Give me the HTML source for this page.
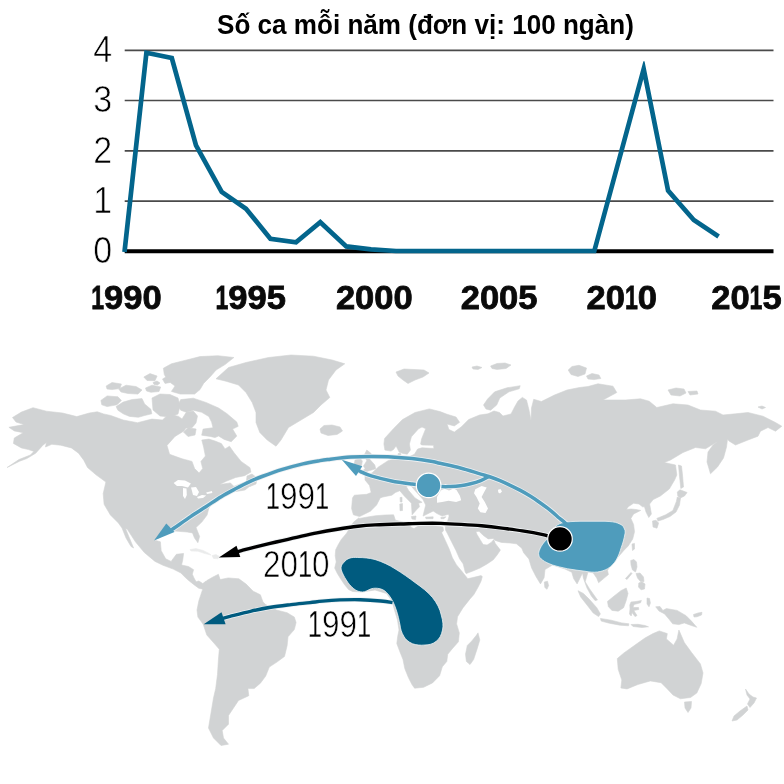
<!DOCTYPE html>
<html><head><meta charset="utf-8">
<style>
html,body{margin:0;padding:0;background:#fff;}
body{width:784px;height:784px;overflow:hidden;font-family:"Liberation Sans",sans-serif;}
svg{display:block;will-change:transform;}
text{font-family:"Liberation Sans",sans-serif;}
.thin{font-weight:400;fill:#000;stroke:#fff;stroke-width:0.7px;paint-order:fill stroke;}
.thin .one{stroke-width:0.3px;}
.yl{font-size:37px;}
.ml{font-size:37px;}
.xl{font-weight:700;font-size:34px;fill:#0a0a0a;stroke:#0a0a0a;stroke-width:0.8px;}
</style></head><body>
<svg width="784" height="784" viewBox="0 0 784 784">
<rect width="784" height="784" fill="#fff"/>
<!-- title -->
<text transform="translate(217.0,33.5) scale(0.966,1)" font-weight="700" font-size="27" fill="#000">Số ca mỗi năm (đơn vị: 100 ngàn)</text>
<!-- grid -->
<g stroke="#4a4a4a" stroke-width="1.7">
<line x1="124.7" y1="50.3" x2="773.5" y2="50.3"/>
<line x1="124.7" y1="100.5" x2="773.5" y2="100.5"/>
<line x1="124.7" y1="150.8" x2="773.5" y2="150.8"/>
<line x1="124.7" y1="201.1" x2="773.5" y2="201.1"/>
</g>
<line x1="124.7" y1="251.2" x2="773.5" y2="251.2" stroke="#000" stroke-width="4"/>
<clipPath id="cc"><rect x="0" y="0" width="400" height="330"/><rect x="400" y="61.2" width="384" height="270"/></clipPath>
<path clip-path="url(#cc)" d="M124.5 252.0 L146.4 52.8 L171.8 58.0 L196.0 145.4 L221.7 192.0 L246.0 208.7 L270.4 238.8 L296.0 242.3 L320.3 222.2 L346.3 246.4 L371.0 249.3 L396.0 251.0 L594.3 251.0 L643.7 69.0 L668.1 190.6 L693.8 220.0 L718.6 236.5" fill="none" stroke="#03658c" stroke-width="4.7" stroke-linejoin="miter" stroke-miterlimit="10" stroke-linecap="butt"/>
<g class="thin yl" text-anchor="middle">
<text transform="translate(102.6,62.2) scale(0.92,1)">4</text>
<text transform="translate(102.6,112.4) scale(0.92,1)">3</text>
<text transform="translate(102.6,162.7) scale(0.92,1)">2</text>
<text transform="translate(102.6,213.0) scale(0.92,1)">1</text>
<text transform="translate(102.6,263.1) scale(0.92,1)">0</text>
</g>
<g class="xl">
<text x="91.24" y="309.0"><tspan class="one" textLength="12.86" lengthAdjust="spacingAndGlyphs">1</tspan><tspan textLength="19.21" lengthAdjust="spacingAndGlyphs">9</tspan><tspan textLength="19.21" lengthAdjust="spacingAndGlyphs">9</tspan><tspan textLength="19.21" lengthAdjust="spacingAndGlyphs">0</tspan></text>
<text x="215.44" y="309.0"><tspan class="one" textLength="12.86" lengthAdjust="spacingAndGlyphs">1</tspan><tspan textLength="19.21" lengthAdjust="spacingAndGlyphs">9</tspan><tspan textLength="19.21" lengthAdjust="spacingAndGlyphs">9</tspan><tspan textLength="19.21" lengthAdjust="spacingAndGlyphs">5</tspan></text>
<text x="335.90" y="309.0"><tspan textLength="19.21" lengthAdjust="spacingAndGlyphs">2</tspan><tspan textLength="19.21" lengthAdjust="spacingAndGlyphs">0</tspan><tspan textLength="19.21" lengthAdjust="spacingAndGlyphs">0</tspan><tspan textLength="19.21" lengthAdjust="spacingAndGlyphs">0</tspan></text>
<text x="460.70" y="309.0"><tspan textLength="19.21" lengthAdjust="spacingAndGlyphs">2</tspan><tspan textLength="19.21" lengthAdjust="spacingAndGlyphs">0</tspan><tspan textLength="19.21" lengthAdjust="spacingAndGlyphs">0</tspan><tspan textLength="19.21" lengthAdjust="spacingAndGlyphs">5</tspan></text>
<text x="586.60" y="309.0"><tspan textLength="19.21" lengthAdjust="spacingAndGlyphs">2</tspan><tspan textLength="19.21" lengthAdjust="spacingAndGlyphs">0</tspan><tspan class="one" textLength="12.86" lengthAdjust="spacingAndGlyphs">1</tspan><tspan textLength="19.21" lengthAdjust="spacingAndGlyphs">0</tspan></text>
<text x="711.20" y="309.0"><tspan textLength="19.21" lengthAdjust="spacingAndGlyphs">2</tspan><tspan textLength="19.21" lengthAdjust="spacingAndGlyphs">0</tspan><tspan class="one" textLength="12.86" lengthAdjust="spacingAndGlyphs">1</tspan><tspan textLength="19.21" lengthAdjust="spacingAndGlyphs">5</tspan></text>
</g>
<!-- map -->
<g id="land" stroke="#d1d3d4" stroke-width="0.6" stroke-linejoin="round">
<path d="M12.5 417.5 L21.4 412.1 L33.0 407.7 L46.4 411.2 L62.5 413.0 L76.8 416.6 L89.3 413.0 L97.3 411.8 L103.6 413.9 L110.7 415.5 L123.2 420.0 L137.5 422.7 L151.8 419.1 L162.5 420.0 L166.1 416.4 L171.4 414.6 L178.6 416.4 L182.0 419.0 L186.3 412.3 L193.3 411.0 L197.5 416.0 L196.0 423.0 L192.0 427.7 L186.0 428.0 L183.9 431.0 L175.0 436.4 L167.0 445.4 L169.6 454.3 L182.1 458.8 L192.0 461.4 L194.6 468.6 L199.1 473.0 L202.7 468.6 L200.9 461.4 L205.4 456.1 L203.6 447.1 L201.8 440.0 L208.9 439.1 L215.0 441.0 L221.4 443.6 L225.0 448.9 L229.5 446.2 L233.9 452.5 L241.1 461.4 L250.0 467.7 L250.9 472.1 L244.6 475.7 L235.7 477.5 L226.8 481.0 L219.6 484.6 L230.4 482.9 L233.9 486.4 L242.9 482.9 L250.0 486.0 L245.0 490.0 L236.0 491.5 L228.6 491.8 L221.4 497.1 L216.1 500.7 L208.9 507.9 L207.1 515.0 L201.8 522.1 L196.0 527.5 L199.6 536.4 L197.9 542.7 L194.5 538.0 L192.5 532.9 L187.1 532.0 L174.6 531.0 L166.0 534.0 L160.0 537.5 L154.1 540.0 L160.4 541.8 L161.2 550.7 L165.7 558.8 L171.1 561.4 L176.4 554.3 L183.6 553.4 L182.7 560.2 L181.5 565.0 L188.5 566.5 L193.6 569.7 L192.3 574.2 L194.0 578.0 L196.1 581.8 L198.9 581.0 L202.8 583.6 L206.0 581.0 L209.0 584.0 L206.3 590.0 L198.7 588.2 L193.6 584.4 L187.2 579.3 L180.8 572.9 L173.2 569.1 L163.0 565.3 L155.0 561.4 L144.3 552.5 L135.4 541.8 L127.3 529.3 L125.5 528.5 L129.0 537.0 L133.6 548.0 L131.0 546.5 L126.0 538.0 L122.0 528.0 L118.4 523.0 L110.4 515.0 L104.1 504.3 L103.2 493.6 L105.9 482.0 L96.0 474.8 L87.5 467.5 L83.9 460.4 L78.6 453.2 L71.4 447.9 L60.7 445.2 L51.8 444.3 L45.5 447.0 L46.4 442.5 L42.9 445.2 L35.7 453.2 L26.8 458.6 L19.6 461.2 L7.1 467.5 L19.0 459.5 L30.4 455.0 L33.9 451.4 L28.6 449.6 L21.4 447.9 L13.4 443.4 L14.3 438.0 L23.2 432.7 L14.3 430.9 L8.9 427.3 L24.1 424.6 L16.0 422.0Z" fill="#d1d3d4" />
<path d="M247.0 476.0 L252.0 474.0 L257.1 478.0 L256.0 484.0 L250.0 486.4 L246.4 482.0Z" fill="#d1d3d4" />
<path d="M100.9 400.4 L107.1 395.9 L117.9 396.8 L121.4 400.4 L117.0 404.8 L107.1 406.6 L101.8 404.8Z" fill="#d1d3d4" />
<path d="M116.1 406.6 L123.2 402.1 L132.1 399.5 L142.0 398.6 L144.6 403.9 L150.9 409.3 L151.8 413.8 L144.6 415.5 L138.4 417.3 L129.5 416.4 L123.2 413.8 L117.9 410.2Z" fill="#d1d3d4" />
<path d="M106.2 386.0 L112.0 382.5 L121.4 384.0 L120.0 388.5 L112.0 389.6 L107.0 389.0Z" fill="#d1d3d4" />
<path d="M118.8 389.0 L126.0 385.2 L136.0 386.5 L142.0 390.0 L138.0 394.1 L128.0 393.5 L121.0 392.0Z" fill="#d1d3d4" />
<path d="M152.0 398.0 L160.0 394.0 L170.0 394.5 L178.0 398.0 L180.0 406.0 L178.0 414.0 L170.0 417.0 L160.0 416.0 L153.0 410.0Z" fill="#d1d3d4" />
<path d="M143.8 377.0 L150.0 373.6 L157.1 376.0 L155.0 380.7 L147.0 380.5Z" fill="#d1d3d4" />
<path d="M163.4 368.2 L171.4 363.8 L185.7 360.2 L200.0 356.6 L217.9 355.7 L233.9 357.5 L225.0 364.6 L216.1 370.0 L210.7 376.2 L203.6 383.4 L200.0 389.6 L194.6 394.1 L180.4 394.1 L171.4 391.4 L175.0 386.0 L167.9 380.7 L164.3 374.5Z" fill="#d1d3d4" />
<path d="M177.9 405.3 L180.7 399.6 L193.3 398.2 L205.9 402.4 L218.6 408.0 L227.0 413.7 L236.8 422.1 L238.2 426.3 L232.6 429.1 L236.8 436.1 L231.2 441.7 L224.2 439.4 L218.6 436.0 L215.0 437.6 L210.2 436.4 L201.7 435.2 L203.1 429.1 L213.0 427.7 L211.6 422.1 L208.8 416.5 L201.7 412.3 L193.3 410.2 L186.3 412.3 L180.7 410.2Z" fill="#d1d3d4" />
<path d="M183.5 432.0 L188.0 427.7 L196.1 429.0 L195.0 435.0 L188.0 436.5Z" fill="#d1d3d4" />
<path d="M216.0 378.8 L228.5 367.5 L246.0 362.5 L268.5 357.5 L291.0 355.0 L313.5 356.2 L332.2 360.0 L344.8 363.8 L336.0 370.0 L328.5 380.0 L326.0 390.0 L329.8 397.5 L321.0 405.0 L313.5 412.5 L301.0 420.0 L288.5 427.5 L281.0 440.0 L276.0 446.2 L267.2 440.0 L259.8 432.5 L256.0 422.5 L256.0 412.5 L252.2 402.5 L246.0 392.5 L238.5 385.0 L226.0 381.2Z" fill="#d1d3d4" />
<path d="M320.0 429.0 L324.0 425.5 L332.0 425.0 L340.0 427.0 L342.5 431.0 L337.0 434.5 L328.0 435.5 L321.0 433.0Z" fill="#d1d3d4" />
<path d="M206.8 580.5 L213.0 577.0 L218.4 574.3 L220.2 579.6 L228.2 577.9 L238.9 578.8 L246.1 584.1 L253.2 591.2 L260.4 594.8 L263.0 602.0 L265.7 604.6 L276.4 610.0 L287.1 612.7 L294.3 617.1 L296.1 622.5 L294.3 629.6 L288.0 636.8 L287.1 645.7 L284.5 656.4 L277.3 661.8 L269.3 667.1 L265.7 676.1 L260.4 683.2 L254.1 688.6 L247.9 688.6 L248.8 695.7 L238.5 700.5 L233.5 708.0 L228.5 715.5 L228.5 724.2 L222.2 730.5 L223.5 738.0 L228.5 744.2 L221.0 745.5 L213.5 738.0 L208.5 728.0 L211.0 713.0 L213.5 698.0 L215.7 688.6 L217.5 674.3 L218.4 660.0 L219.3 649.3 L213.9 643.0 L206.8 635.0 L203.2 624.3 L197.9 617.1 L197.0 610.0 L198.8 601.0 L202.3 590.4Z" fill="#d1d3d4" />
<path d="M359.6 518.4 L367.5 517.0 L375.7 515.7 L385.0 515.0 L393.6 514.8 L395.4 520.2 L401.0 521.5 L407.9 522.9 L411.5 527.5 L414.0 528.5 L420.0 525.0 L428.0 523.0 L436.0 526.0 L443.0 527.0 L443.5 530.5 L441.7 532.8 L445.3 540.4 L449.4 549.6 L452.4 557.8 L456.5 564.9 L461.6 571.0 L465.2 575.6 L467.8 578.7 L474.9 577.1 L481.0 575.6 L482.3 576.6 L481.0 581.2 L478.0 587.3 L473.9 594.5 L470.0 598.9 L462.9 607.9 L457.5 616.8 L456.6 623.9 L459.3 632.9 L458.4 641.8 L452.1 648.9 L447.7 654.3 L446.8 661.4 L442.3 666.8 L439.6 675.7 L432.5 682.9 L423.6 687.3 L414.6 688.2 L412.0 684.6 L408.4 677.5 L404.8 668.6 L403.0 659.6 L399.5 650.7 L396.8 643.6 L397.7 636.4 L399.0 630.0 L397.5 620.0 L394.5 610.0 L392.0 601.0 L386.5 593.5 L375.0 590.0 L362.0 592.0 L352.6 591.5 L348.5 589.5 L344.4 584.4 L340.3 578.3 L337.2 573.2 L334.7 568.1 L336.2 561.9 L335.2 555.8 L335.7 549.7 L338.3 544.6 L341.3 539.5 L346.4 533.4 L351.0 526.2 L353.6 522.1 L358.7 518.0Z" fill="#d1d3d4" />
<path d="M478.0 632.9 L479.8 640.0 L477.1 648.9 L473.6 659.6 L470.0 664.6 L466.4 661.4 L465.5 654.3 L467.3 645.4 L471.8 640.9 L476.2 635.5Z" fill="#d1d3d4" />
<path d="M617.3 658.6 L623.6 653.2 L636.1 644.3 L645.0 638.0 L653.0 633.6 L659.3 630.9 L667.3 633.6 L666.4 638.9 L673.6 645.2 L677.1 638.9 L678.9 630.0 L684.3 642.5 L691.4 652.3 L700.4 663.9 L703.0 672.9 L701.2 683.6 L696.8 693.0 L690.5 697.5 L680.5 698.8 L673.0 695.0 L667.3 688.9 L661.1 682.7 L650.4 680.9 L637.9 684.5 L627.1 688.9 L620.9 688.0 L621.8 680.0 L618.2 669.3Z" fill="#d1d3d4" />
<path d="M684.5 702.0 L691.5 701.5 L691.0 708.0 L688.0 712.5 L685.0 708.0Z" fill="#d1d3d4" />
<path d="M745.5 689.0 L749.0 694.0 L753.0 697.0 L756.5 698.0 L754.0 703.0 L750.0 707.5 L747.5 704.0 L750.0 699.0 L747.0 695.0Z" fill="#d1d3d4" />
<path d="M747.0 706.0 L748.0 710.0 L743.0 715.0 L737.0 720.0 L732.0 721.0 L734.0 716.0 L740.0 711.0Z" fill="#d1d3d4" />
<path d="M655.7 606.8 L660.0 606.5 L662.9 610.4 L666.4 608.6 L677.1 610.4 L686.1 615.7 L691.4 621.1 L696.8 627.3 L691.4 625.5 L684.3 622.9 L678.9 624.6 L672.7 623.8 L669.1 619.3 L664.6 613.9 L659.0 611.0Z" fill="#d1d3d4" />
<path d="M607.5 601.4 L612.9 597.0 L620.9 590.7 L626.2 588.0 L628.0 593.4 L626.2 600.5 L623.6 607.7 L618.2 611.2 L612.0 610.4 L608.4 606.8Z" fill="#d1d3d4" />
<path d="M629.8 605.0 L631.0 602.0 L636.0 601.5 L641.4 600.5 L640.5 602.8 L634.0 604.5 L633.0 607.5 L638.5 607.5 L638.8 609.5 L633.8 610.5 L637.0 615.5 L635.0 616.6 L632.0 612.5 L631.2 616.0 L629.5 614.0 L630.0 609.0Z" fill="#d1d3d4" />
<path d="M578.0 590.7 L583.4 593.4 L589.6 599.6 L596.8 607.7 L600.4 613.9 L598.6 616.6 L593.2 613.0 L587.0 605.0 L580.7 597.0Z" fill="#d1d3d4" />
<path d="M600.4 618.4 L611.1 620.2 L621.8 622.9 L628.9 623.8 L628.5 625.8 L620.0 625.2 L609.3 623.2 L601.2 621.1Z" fill="#d1d3d4" />
<path d="M631.0 624.5 L638.0 624.3 L645.0 625.5 L648.5 626.8 L642.0 627.5 L633.0 626.5Z" fill="#d1d3d4" />
<path d="M630.7 560.5 L634.0 559.5 L636.5 562.0 L637.0 567.0 L635.5 572.0 L632.5 570.0 L631.0 565.0Z" fill="#d1d3d4" />
<path d="M632.0 544.0 L634.5 543.4 L634.5 549.0 L632.5 550.5Z" fill="#d1d3d4" />
<path d="M544.3 582.0 L547.5 581.2 L548.6 585.5 L547.0 589.3 L544.8 587.5Z" fill="#d1d3d4" />
<path d="M678.5 465.0 L681.5 466.0 L682.5 475.0 L683.5 487.0 L680.8 488.5 L679.5 476.0Z" fill="#d1d3d4" />
<path d="M677.3 492.0 L680.0 489.8 L687.1 492.5 L684.5 496.0 L680.5 497.9 L677.8 496.0Z" fill="#d1d3d4" />
<path d="M677.3 497.0 L680.5 498.0 L679.5 505.0 L676.0 512.0 L670.0 516.5 L663.0 519.5 L658.0 521.0 L656.8 518.4 L665.7 514.8 L672.9 510.4 L676.4 501.4Z" fill="#d1d3d4" />
<path d="M652.5 521.0 L656.0 520.2 L658.6 523.0 L657.0 528.2 L653.0 527.0Z" fill="#d1d3d4" />
<path d="M396.0 372.0 L404.0 369.0 L414.0 369.5 L424.0 370.0 L429.0 373.0 L423.0 377.0 L415.0 380.0 L408.0 383.5 L403.0 380.0 L398.0 376.0Z" fill="#d1d3d4" />
<path d="M490.6 366.0 L497.0 363.5 L505.0 363.0 L511.0 365.0 L506.0 368.5 L497.0 369.4 L492.0 368.5Z" fill="#d1d3d4" />
<path d="M520.2 385.7 L507.0 387.8 L494.7 391.8 L487.6 399.0 L483.5 405.0 L486.0 409.0 L490.6 410.2 L496.7 405.0 L499.8 398.0 L509.0 391.8 L519.2 388.8Z" fill="#d1d3d4" />
<path d="M568.2 370.0 L572.0 366.5 L579.0 365.3 L586.5 368.0 L585.0 374.0 L578.0 376.5 L571.0 374.5Z" fill="#d1d3d4" />
<path d="M668.0 390.0 L676.0 388.0 L684.0 389.0 L686.0 393.0 L680.0 396.0 L671.0 395.0Z" fill="#d1d3d4" />
<path d="M688.0 391.5 L697.0 391.0 L698.0 394.0 L690.0 395.0Z" fill="#d1d3d4" />
<path d="M758.0 407.0 L762.0 406.0 L765.5 407.5 L762.0 409.0Z" fill="#d1d3d4" />
<path d="M366.8 450.0 L371.2 453.6 L369.5 459.0 L374.8 465.0 L375.7 468.8 L370.0 470.5 L366.8 471.4 L361.4 472.3 L365.0 468.5 L363.5 466.0 L366.8 460.7 L364.0 455.4Z" fill="#d1d3d4" />
<path d="M355.0 460.0 L360.0 458.0 L362.3 461.0 L361.5 465.5 L356.5 467.0 L354.3 464.0Z" fill="#d1d3d4" />
<path d="M411.4 516.5 L416.0 516.0 L415.5 519.6 L412.0 519.0Z" fill="#d1d3d4" />
<path d="M399.8 504.0 L402.5 503.6 L402.5 510.5 L400.0 510.7Z" fill="#d1d3d4" />
<path d="M400.0 497.5 L402.0 497.3 L402.0 502.0 L400.3 502.0Z" fill="#d1d3d4" />
<path d="M384.9 450.1 L383.9 444.0 L384.6 438.4 L393.6 428.6 L402.5 419.6 L415.0 412.5 L429.3 408.9 L440.0 411.6 L447.1 414.3 L456.0 417.0 L459.6 422.3 L454.3 425.9 L447.1 424.1 L448.9 429.5 L454.3 432.1 L461.4 426.8 L468.6 419.6 L479.5 415.0 L488.0 413.8 L494.0 411.0 L499.5 412.5 L503.0 416.0 L511.0 414.0 L514.6 407.0 L518.0 401.0 L522.3 397.4 L526.5 400.0 L529.0 410.0 L531.0 420.5 L531.5 408.0 L533.7 399.3 L541.4 401.5 L554.5 395.0 L567.0 390.0 L579.5 387.5 L588.0 386.5 L598.0 383.8 L613.0 386.2 L616.8 392.5 L603.0 400.0 L625.5 400.0 L640.5 398.8 L649.2 401.2 L656.8 407.5 L673.0 403.8 L688.0 405.0 L700.5 410.0 L715.5 411.2 L723.0 415.0 L735.5 413.8 L748.0 412.5 L763.0 416.2 L775.5 422.5 L781.8 426.2 L775.5 431.2 L768.0 427.5 L760.5 431.2 L758.0 436.2 L748.0 440.0 L735.5 445.0 L729.0 441.0 L727.5 439.0 L726.5 447.0 L723.5 458.0 L717.5 467.0 L710.5 473.8 L707.0 462.0 L708.0 452.0 L713.0 445.0 L718.0 441.2 L705.5 448.8 L695.5 447.5 L683.0 452.5 L670.5 460.0 L664.2 462.5 L675.5 465.0 L676.8 475.0 L674.6 480.0 L669.3 489.0 L660.4 496.0 L653.2 499.6 L649.6 504.0 L651.4 514.0 L648.8 517.5 L646.0 512.0 L644.5 506.8 L642.5 506.8 L639.0 504.0 L633.6 503.2 L628.2 506.8 L626.4 509.5 L631.0 509.0 L636.0 509.5 L640.7 510.4 L633.6 514.0 L630.9 518.4 L633.6 524.6 L634.5 531.8 L632.7 539.0 L628.2 546.0 L623.8 550.5 L619.0 556.0 L612.0 564.0 L607.5 570.2 L608.4 574.6 L603.0 579.1 L598.6 582.7 L596.8 578.2 L593.2 572.9 L588.0 572.0 L585.2 581.8 L589.6 588.9 L594.1 595.2 L597.5 600.0 L595.0 600.5 L591.4 596.1 L587.0 588.0 L583.4 578.2 L582.5 573.0 L577.1 583.9 L573.6 578.6 L571.8 572.3 L565.0 569.0 L552.5 565.0 L545.0 569.6 L544.1 577.7 L540.5 583.9 L536.1 576.8 L531.6 567.9 L528.9 558.9 L523.6 552.7 L521.8 548.2 L516.4 543.8 L510.0 543.0 L501.4 542.4 L495.3 540.4 L493.3 538.4 L488.2 538.9 L483.1 535.3 L479.0 531.2 L475.9 531.7 L476.9 534.3 L480.0 539.4 L483.1 544.5 L487.1 545.0 L491.2 542.4 L493.8 539.5 L495.3 543.5 L500.4 550.1 L497.3 554.7 L493.3 559.8 L487.1 563.9 L480.0 568.0 L472.9 571.0 L466.2 573.6 L465.2 572.0 L463.2 563.9 L459.6 558.8 L456.0 550.6 L451.4 541.4 L447.3 533.3 L445.5 530.0 L445.4 523.8 L447.8 520.6 L449.1 516.1 L448.5 514.2 L442.1 516.1 L437.0 513.6 L432.5 510.5 L431.5 506.0 L431.9 503.4 L436.4 501.4 L432.0 505.9 L432.9 511.2 L429.3 513.0 L423.0 516.1 L425.7 505.0 L423.0 499.6 L416.8 492.5 L410.5 485.4 L406.1 486.2 L408.8 490.7 L415.0 497.9 L422.1 502.3 L418.6 503.2 L419.5 506.8 L416.8 509.5 L412.1 514.8 L411.4 503.2 L404.3 496.0 L399.8 490.7 L395.4 492.5 L391.8 495.2 L382.9 497.0 L380.2 497.9 L376.6 505.0 L370.4 511.2 L359.6 516.6 L353.4 514.8 L351.6 508.6 L352.5 497.9 L354.3 495.2 L366.8 494.3 L371.2 492.5 L369.5 485.4 L365.0 480.0 L365.0 475.0 L372.0 473.0 L378.4 467.0 L388.0 460.7 L394.0 459.0 L397.5 458.0 L398.2 453.5 L400.5 453.2 L401.5 457.0 L400.0 460.0 L403.0 459.5 L407.3 458.3 L410.4 456.2 L414.5 454.2 L417.6 449.1 L422.0 447.8 L433.9 448.5 L433.5 445.3 L421.6 445.0 L420.6 444.0 L421.6 438.9 L425.7 428.7 L422.0 427.0 L418.6 428.7 L411.4 436.8 L409.4 444.0 L410.4 450.1 L407.3 454.2 L403.0 453.5 L399.2 452.1 L396.1 446.0 L393.5 449.5 L391.0 451.1Z" fill="#d1d3d4" />
<path d="M145.5 388.0 L152.0 385.2 L160.7 387.0 L159.0 391.5 L151.0 392.3 L146.5 391.0Z" fill="#d1d3d4" />
<path d="M425.5 517.2 L433.2 516.8 L433.0 518.7 L426.0 518.7Z" fill="#d1d3d4" />
<path d="M440.8 517.5 L445.9 516.8 L444.0 518.7 L441.0 518.7Z" fill="#d1d3d4" />
<path d="M162.5 379.0 L166.0 377.0 L170.5 378.5 L170.0 382.5 L165.0 383.4Z" fill="#d1d3d4" />
<path d="M153.0 382.5 L157.0 381.0 L160.0 383.0 L157.5 385.0 L154.0 384.5Z" fill="#d1d3d4" />
<path d="M636.0 573.5 L640.0 573.0 L643.5 577.0 L644.0 581.5 L640.5 581.5 L637.5 578.0Z" fill="#d1d3d4" />
<path d="M638.8 583.0 L642.0 581.8 L645.0 584.0 L644.5 589.0 L641.0 589.8 L638.5 587.0Z" fill="#d1d3d4" />
<path d="M625.5 578.5 L631.0 572.5 L632.0 573.5 L627.0 579.5Z" fill="#d1d3d4" />
<path d="M647.0 598.0 L649.5 598.5 L650.4 603.0 L649.0 606.8 L647.0 604.0Z" fill="#d1d3d4" />
<path d="M693.5 614.5 L698.0 613.0 L702.0 612.3 L701.5 615.0 L697.0 616.8 L694.0 617.0Z" fill="#d1d3d4" />
<path d="M472.0 367.0 L477.0 366.0 L482.0 367.5 L478.0 369.4 L473.0 369.0Z" fill="#d1d3d4" />
<path d="M586.5 376.0 L592.0 373.5 L599.0 375.0 L600.8 378.5 L594.0 379.6 L588.0 379.0Z" fill="#d1d3d4" />
<path d="M190.0 549.6 L196.0 548.6 L203.0 550.4 L209.0 553.4 L211.0 555.0 L205.0 553.6 L198.0 551.2 L191.0 551.0Z" fill="#d1d3d4" opacity="0.45"/>
<path d="M212.0 555.6 L216.0 554.6 L219.5 556.5 L218.0 558.8 L213.5 558.4Z" fill="#d1d3d4" opacity="0.45"/>
</g>
<g id="water">
<path d="M437.0 497.0 L440.8 490.6 L444.6 488.7 L449.0 490.5 L453.6 488.5 L456.5 490.0 L459.9 495.7 L461.2 500.2 L456.1 502.1 L448.5 500.8 L442.1 502.1 L437.0 502.7Z" fill="#fff" />
<path d="M475.3 489.3 L481.6 486.1 L486.7 487.4 L484.2 491.9 L481.6 497.0 L484.8 502.1 L488.0 508.5 L485.5 512.9 L480.4 512.3 L477.8 508.5 L479.7 503.4 L476.5 497.0 L474.0 493.2Z" fill="#fff" />
<path d="M498.0 489.8 L500.5 489.0 L502.0 491.5 L500.0 493.5 L498.3 492.5Z" fill="#fff" />
<path d="M173.6 483.0 L178.0 480.0 L185.0 480.5 L190.9 483.5 L188.0 487.5 L182.0 486.0 L177.0 486.0Z" fill="#fff" />
<path d="M183.0 488.0 L186.5 488.5 L186.8 495.0 L185.0 499.0 L183.0 496.0Z" fill="#fff" />
<path d="M191.0 487.5 L196.0 487.0 L199.0 492.0 L197.0 496.0 L193.0 495.0 L192.0 491.0Z" fill="#fff" />
<path d="M197.0 497.0 L202.0 495.0 L206.2 495.5 L203.0 498.0 L198.0 498.5Z" fill="#fff" />
<path d="M206.2 492.5 L212.0 491.0 L212.3 493.0 L207.0 494.0Z" fill="#fff" />
</g>

<g fill="none" stroke-linecap="butt">
<path d="M567.5 525.0 C567.0 524.5 565.7 523.2 564.3 522.0 C562.9 520.8 561.4 519.9 559.2 518.0 C557.0 516.1 554.1 513.3 551.0 510.8 C547.9 508.3 544.2 505.6 540.8 503.2 C537.4 500.8 534.0 498.4 530.6 496.3 C527.2 494.2 523.8 492.2 520.4 490.4 C517.0 488.6 513.6 486.9 510.2 485.3 C506.8 483.7 503.5 482.2 500.0 480.7 C496.5 479.2 492.2 477.6 489.0 476.5 C485.8 475.4 485.6 475.5 480.8 474.1 C476.0 472.7 467.2 469.8 460.4 468.0 C453.6 466.2 444.7 464.4 440.0 463.3 C435.3 462.2 437.1 462.4 432.4 461.6 C427.7 460.8 418.8 459.4 412.0 458.6 C405.2 457.8 398.4 457.2 391.6 456.9 C384.8 456.5 378.0 456.5 371.2 456.5 C364.4 456.5 357.6 456.7 350.8 457.1 C344.0 457.6 335.5 458.6 330.4 459.2 C325.3 459.8 324.6 459.8 320.0 460.6 C315.4 461.4 309.2 462.4 302.9 463.9 C296.6 465.4 289.2 467.3 282.4 469.4 C275.6 471.5 267.1 474.6 262.0 476.5 C256.9 478.4 256.1 478.7 251.8 480.7 C247.6 482.7 241.6 485.6 236.5 488.3 C231.4 491.0 226.3 493.6 221.2 496.7 C216.1 499.8 211.0 503.4 205.9 506.7 C200.8 510.0 195.7 513.2 190.6 516.6 C185.5 520.0 178.5 525.1 175.3 527.3 C172.1 529.5 172.1 529.4 171.5 529.8" stroke="#eef1f3" stroke-width="5.1"/>
<path d="M489.0 476.5 C487.6 477.2 483.9 479.4 480.8 480.6 C477.7 481.8 474.0 482.9 470.6 483.7 C467.2 484.5 463.8 485.2 460.4 485.7 C457.0 486.2 453.1 486.4 450.2 486.5 C447.3 486.6 446.6 486.8 443.0 486.6 C439.4 486.5 433.6 486.0 428.4 485.6 C423.2 485.2 418.1 484.9 412.0 484.1 C405.9 483.3 398.4 482.4 391.6 481.0 C384.8 479.6 376.3 477.4 371.2 475.9 C366.1 474.4 363.4 472.9 361.0 471.8 C358.6 470.7 357.7 469.9 357.0 469.5" stroke="#eef1f3" stroke-width="5.1"/>
<path d="M560.0 538.9 C558.2 538.5 551.9 536.9 549.0 536.2 C546.1 535.5 547.3 535.5 542.9 534.6 C538.5 533.7 529.2 532.0 522.4 530.9 C515.6 529.8 508.8 529.0 502.0 528.1 C495.2 527.2 488.4 526.4 481.6 525.8 C474.8 525.2 468.0 524.8 461.2 524.4 C454.4 524.0 447.6 523.6 440.8 523.4 C434.0 523.2 427.2 523.3 420.4 523.4 C413.6 523.5 407.6 523.8 400.0 524.0 C392.4 524.2 382.0 524.5 375.0 524.9 C368.0 525.3 364.2 525.6 357.9 526.3 C351.6 527.0 344.2 528.1 337.4 529.2 C330.6 530.3 323.8 531.5 317.0 532.9 C310.2 534.2 303.4 535.8 296.6 537.3 C289.8 538.8 283.0 540.4 276.2 542.0 C269.4 543.6 261.6 545.5 255.8 546.9 C250.0 548.3 244.6 549.8 241.5 550.6 C238.4 551.4 237.8 551.6 237.0 551.8" stroke="#eef1f3" stroke-width="5.0"/>
<path d="M392.5 602.6 C390.6 602.3 386.2 601.5 380.8 601.0 C375.4 600.5 367.2 599.9 360.4 599.7 C353.6 599.5 346.3 599.7 340.0 599.9 C333.7 600.1 327.6 600.6 322.6 601.1 C317.6 601.6 315.2 602.0 310.0 602.6 C304.8 603.2 297.7 603.8 291.2 604.6 C284.7 605.4 277.6 606.2 270.8 607.3 C264.0 608.4 257.2 609.8 250.4 611.3 C243.6 612.8 234.7 615.2 230.0 616.4 C225.3 617.6 223.3 618.3 222.0 618.7" stroke="#eef1f3" stroke-width="4.8"/>
</g>
<!-- blobs -->
<path d="M343.75 562.5 C347 558 352 557 357.5 557.5 C364 557.5 369 558 375 559.5 C383 562 389 565 395 568.75 C402 573 409 578 415 582.5 C422 587.5 428 592 432.5 597.5 C437 603 440 609 441.25 615 C443 621 443.5 626 442.5 630 C441.5 635 439.5 639 436.25 641.25 C433 644 429 645 425 645 C420.5 645.5 416 645 412.5 643.75 C408.5 642 405.5 639.5 403.75 636.25 C401.5 632.5 400.5 629 400 625 C399 620 398 615 396.25 610 C394.5 604.5 392 599 388.75 595 C386 591.5 383.5 589.5 380 588.75 C377 588 374 588 371.25 588.75 C368 590 365.5 592 362.5 592 C359.5 592 356.5 591 353.75 588.75 C350.5 586 348 583 346.25 580 C344 576.5 342.5 573.5 341.25 570 C340.5 567 341.5 564.5 343.75 562.5Z" fill="#005b7f" stroke="#eef2f4" stroke-width="0.8"/>
<path d="M556 526 C560 522.5 566 521.5 580 521.25 L605 521.25 C611 521.5 615 522 617.5 523 C621.5 524.5 623.5 526 623.75 527.5 C625 529.5 625.5 531.5 625 533.75 C624 539 623 543 621.25 547.5 C620 552 618.5 556 616.25 560 C614 563.5 611.5 566.5 607.5 568.75 C604.5 570.5 601 571.5 597.5 572 C593.5 572.5 589 572 585 571.25 C579 570.5 573 569.75 567.5 568.75 C562 567.5 557 566.5 552.5 565 C548.5 563.5 545 562 542.5 560 C540.5 558.5 539 557 538.75 555 C538.25 553 539 551 540 548.75 C541.5 545.5 543.5 542.5 546.25 540 C549 535 552 530 556 526Z" fill="#4f9cbc" stroke="#eef2f4" stroke-width="0.8"/>


<g fill="none" stroke-linecap="butt">
<path d="M567.5 525.0 C567.0 524.5 565.7 523.2 564.3 522.0 C562.9 520.8 561.4 519.9 559.2 518.0 C557.0 516.1 554.1 513.3 551.0 510.8 C547.9 508.3 544.2 505.6 540.8 503.2 C537.4 500.8 534.0 498.4 530.6 496.3 C527.2 494.2 523.8 492.2 520.4 490.4 C517.0 488.6 513.6 486.9 510.2 485.3 C506.8 483.7 503.5 482.2 500.0 480.7 C496.5 479.2 492.2 477.6 489.0 476.5 C485.8 475.4 485.6 475.5 480.8 474.1 C476.0 472.7 467.2 469.8 460.4 468.0 C453.6 466.2 444.7 464.4 440.0 463.3 C435.3 462.2 437.1 462.4 432.4 461.6 C427.7 460.8 418.8 459.4 412.0 458.6 C405.2 457.8 398.4 457.2 391.6 456.9 C384.8 456.5 378.0 456.5 371.2 456.5 C364.4 456.5 357.6 456.7 350.8 457.1 C344.0 457.6 335.5 458.6 330.4 459.2 C325.3 459.8 324.6 459.8 320.0 460.6 C315.4 461.4 309.2 462.4 302.9 463.9 C296.6 465.4 289.2 467.3 282.4 469.4 C275.6 471.5 267.1 474.6 262.0 476.5 C256.9 478.4 256.1 478.7 251.8 480.7 C247.6 482.7 241.6 485.6 236.5 488.3 C231.4 491.0 226.3 493.6 221.2 496.7 C216.1 499.8 211.0 503.4 205.9 506.7 C200.8 510.0 195.7 513.2 190.6 516.6 C185.5 520.0 178.5 525.1 175.3 527.3 C172.1 529.5 172.1 529.4 171.5 529.8" stroke="#4f9cbc" stroke-width="3.5"/>
<path d="M489.0 476.5 C487.6 477.2 483.9 479.4 480.8 480.6 C477.7 481.8 474.0 482.9 470.6 483.7 C467.2 484.5 463.8 485.2 460.4 485.7 C457.0 486.2 453.1 486.4 450.2 486.5 C447.3 486.6 446.6 486.8 443.0 486.6 C439.4 486.5 433.6 486.0 428.4 485.6 C423.2 485.2 418.1 484.9 412.0 484.1 C405.9 483.3 398.4 482.4 391.6 481.0 C384.8 479.6 376.3 477.4 371.2 475.9 C366.1 474.4 363.4 472.9 361.0 471.8 C358.6 470.7 357.7 469.9 357.0 469.5" stroke="#4f9cbc" stroke-width="3.5"/>
<path d="M560.0 538.9 C558.2 538.5 551.9 536.9 549.0 536.2 C546.1 535.5 547.3 535.5 542.9 534.6 C538.5 533.7 529.2 532.0 522.4 530.9 C515.6 529.8 508.8 529.0 502.0 528.1 C495.2 527.2 488.4 526.4 481.6 525.8 C474.8 525.2 468.0 524.8 461.2 524.4 C454.4 524.0 447.6 523.6 440.8 523.4 C434.0 523.2 427.2 523.3 420.4 523.4 C413.6 523.5 407.6 523.8 400.0 524.0 C392.4 524.2 382.0 524.5 375.0 524.9 C368.0 525.3 364.2 525.6 357.9 526.3 C351.6 527.0 344.2 528.1 337.4 529.2 C330.6 530.3 323.8 531.5 317.0 532.9 C310.2 534.2 303.4 535.8 296.6 537.3 C289.8 538.8 283.0 540.4 276.2 542.0 C269.4 543.6 261.6 545.5 255.8 546.9 C250.0 548.3 244.6 549.8 241.5 550.6 C238.4 551.4 237.8 551.6 237.0 551.8" stroke="#000" stroke-width="3.4"/>
<path d="M392.5 602.6 C390.6 602.3 386.2 601.5 380.8 601.0 C375.4 600.5 367.2 599.9 360.4 599.7 C353.6 599.5 346.3 599.7 340.0 599.9 C333.7 600.1 327.6 600.6 322.6 601.1 C317.6 601.6 315.2 602.0 310.0 602.6 C304.8 603.2 297.7 603.8 291.2 604.6 C284.7 605.4 277.6 606.2 270.8 607.3 C264.0 608.4 257.2 609.8 250.4 611.3 C243.6 612.8 234.7 615.2 230.0 616.4 C225.3 617.6 223.3 618.3 222.0 618.7" stroke="#005b7f" stroke-width="3.4"/>
</g>
<!-- arrowheads -->
<path d="M154 540.4 L166.3 523.5 L174.5 531.9 Z" fill="#4f9cbc"/>
<path d="M341.8 459.8 L362.3 466.2 L356 476 Z" fill="#4f9cbc"/>
<path d="M218.9 557.5 L236.5 545.7 L240.3 557.1 Z" fill="#000"/>
<path d="M203.7 624.2 L221.5 612.3 L225.6 624.3 Z" fill="#005b7f"/>
<!-- circles -->
<circle cx="428.6" cy="485.4" r="12.3" fill="#4f9cbc" stroke="#fff" stroke-width="1.2"/>
<circle cx="560" cy="538.9" r="12.3" fill="#000" stroke="#fff" stroke-width="1.2"/>
<!-- labels -->
<g class="thin ml">
<text x="265.75" y="508.8"><tspan class="one" textLength="14.20" lengthAdjust="spacingAndGlyphs">1</tspan><tspan textLength="17.49" lengthAdjust="spacingAndGlyphs">9</tspan><tspan textLength="17.49" lengthAdjust="spacingAndGlyphs">9</tspan><tspan class="one" textLength="14.20" lengthAdjust="spacingAndGlyphs">1</tspan></text>
<text x="262.92" y="577.0"><tspan textLength="17.49" lengthAdjust="spacingAndGlyphs">2</tspan><tspan textLength="17.49" lengthAdjust="spacingAndGlyphs">0</tspan><tspan class="one" textLength="14.20" lengthAdjust="spacingAndGlyphs">1</tspan><tspan textLength="17.49" lengthAdjust="spacingAndGlyphs">0</tspan></text>
<text x="307.75" y="637.0"><tspan class="one" textLength="14.20" lengthAdjust="spacingAndGlyphs">1</tspan><tspan textLength="17.49" lengthAdjust="spacingAndGlyphs">9</tspan><tspan textLength="17.49" lengthAdjust="spacingAndGlyphs">9</tspan><tspan class="one" textLength="14.20" lengthAdjust="spacingAndGlyphs">1</tspan></text>
</g>

</svg>
</body></html>
